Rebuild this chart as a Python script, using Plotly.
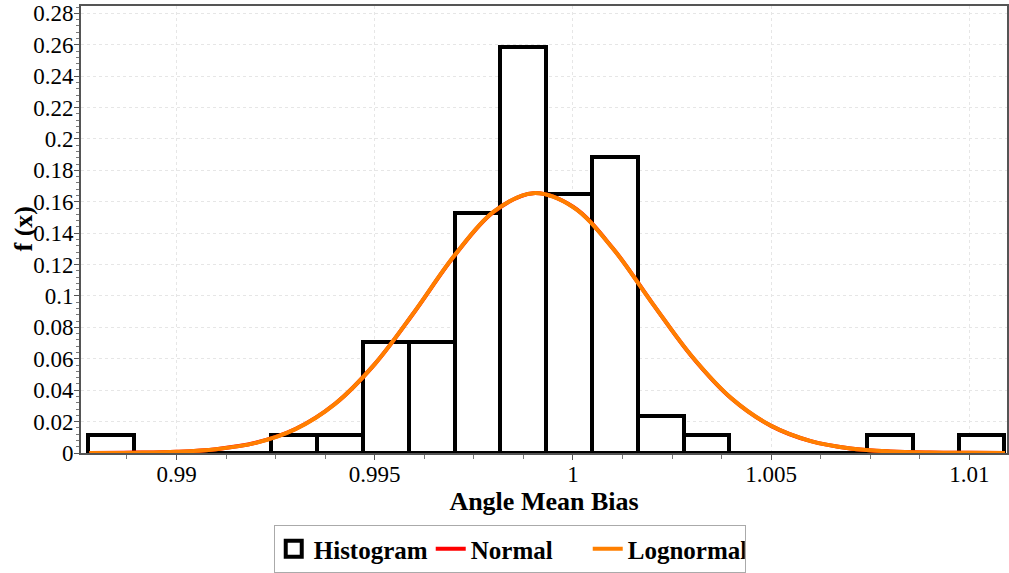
import plotly.graph_objects as go

# ---- data ----
bin_start = 0.98777          # left edge of first bin
bin_width = 0.0011556        # width of each bin
counts = [1, 0, 0, 0, 1, 1, 6, 6, 13, 22, 14, 16, 2, 1, 0, 0, 0, 1, 0, 1]
n_total = 85

curve_x = [0.9878, 0.989, 0.990, 0.991, 0.992, 0.993, 0.994, 0.995, 0.996, 0.997,
           0.998, 0.999, 1.000, 1.001, 1.002, 1.003, 1.004, 1.005, 1.006, 1.007,
           1.008, 1.009, 1.010, 1.0109]
normal_y = [0.00005, 0.00024, 0.00081, 0.00246, 0.00652, 0.01525, 0.03133, 0.0566,
            0.0898, 0.1253, 0.1536, 0.1655, 0.1568, 0.1306, 0.0955, 0.0615, 0.0347,
            0.01727, 0.00754, 0.00289, 0.00098, 0.00029, 0.00008, 0.00002]
lognormal_y = [0.00004, 0.00022, 0.00078, 0.00242, 0.00647, 0.01521, 0.03131, 0.0566,
               0.0899, 0.1254, 0.1537, 0.1655, 0.1567, 0.1305, 0.0955, 0.0616, 0.0348,
               0.01735, 0.00760, 0.00293, 0.00100, 0.00030, 0.00008, 0.00002]

x_ticks = [0.99, 0.995, 1.0, 1.005, 1.01]
x_tick_text = ["0.99", "0.995", "1", "1.005", "1.01"]
y_ticks = [0, 0.02, 0.04, 0.06, 0.08, 0.1, 0.12, 0.14, 0.16, 0.18, 0.2, 0.22, 0.24, 0.26, 0.28]
y_tick_text = ["0", "0.02", "0.04", "0.06", "0.08", "0.1", "0.12", "0.14", "0.16",
               "0.18", "0.2", "0.22", "0.24", "0.26", "0.28"]

# ---- derived ----
centers = [bin_start + bin_width * (i + 0.5) for i in range(len(counts))]
freqs = [c / n_total for c in counts]
edge_lo = bin_start
edge_hi = bin_start + bin_width * len(counts)

FONT = "Liberation Serif, Times New Roman, serif"
TICKFONT = dict(family=FONT, size=23, color="black")
TITLEFONT = dict(family=FONT, size=26, color="black", weight="bold")

fig = go.Figure()
fig.add_trace(go.Bar(
    x=centers, y=freqs, width=[bin_width] * len(counts),
    marker=dict(color="white", line=dict(color="black", width=4)),
    name="Histogram", legendgroup="h", showlegend=False,
))
fig.add_trace(go.Scatter(
    x=[edge_lo, edge_hi], y=[0, 0], mode="lines",
    line=dict(color="black", width=4), showlegend=False, legendgroup="h",
    hoverinfo="skip",
))
# legend entry for the histogram (outlined box symbol)
fig.add_trace(go.Scatter(
    x=[None], y=[None], mode="markers", name="Histogram", legendgroup="h",
    marker=dict(symbol="square-open", size=16, color="black",
                line=dict(width=4, color="black")),
))
fig.add_trace(go.Scatter(
    x=curve_x, y=normal_y, mode="lines", name="Normal",
    line=dict(color="#ff0000", width=4, shape="spline"),
))
fig.add_trace(go.Scatter(
    x=curve_x, y=lognormal_y, mode="lines", name="Lognormal",
    line=dict(color="#ff7f00", width=4, shape="spline"),
))

fig.update_layout(
    width=1009, height=573,
    margin=dict(l=81, r=2, t=6, b=120, autoexpand=False),
    plot_bgcolor="white", paper_bgcolor="white",
    font=dict(family=FONT, size=23, color="black"),
    bargap=0,
    showlegend=True,
    legend=dict(
        orientation="h", x=0.463, xanchor="center",
        yref="container", y=0.0, yanchor="bottom",
        bordercolor="#aaaaaa", borderwidth=1,
        font=dict(family=FONT, size=25, color="black", weight="bold"),
        itemwidth=30, entrywidth=112, tracegroupgap=0, itemsizing="trace",
    ),
    xaxis=dict(
        range=[0.98759, 1.01095],
        tickmode="array", tickvals=x_ticks, ticktext=x_tick_text,
        tickfont=TICKFONT, ticklabelstandoff=-6,
        showline=True, linecolor="#555555", linewidth=2, mirror=True,
        showgrid=True, gridcolor="#e6e6e6", griddash="dot", gridwidth=1,
        zeroline=False, ticks="outside", ticklen=5, tickcolor="#555555",
        minor=dict(dtick=0.00125, tick0=0.99, ticks="outside", ticklen=4,
                   tickcolor="#777777", showgrid=False),
        title=dict(text="Angle Mean Bias", standoff=4, font=TITLEFONT),
    ),
    yaxis=dict(
        range=[0, 0.2847],
        tickmode="array", tickvals=y_ticks, ticktext=y_tick_text,
        tickfont=TICKFONT, ticklabelstandoff=-4,
        showline=True, linecolor="#555555", linewidth=2, mirror=True,
        showgrid=True, gridcolor="#e6e6e6", griddash="dot", gridwidth=1,
        zeroline=False, ticks="outside", ticklen=5, tickcolor="#555555",
        minor=dict(dtick=0.004, tick0=0, ticks="outside", ticklen=3,
                   tickcolor="#777777", showgrid=False),
    ),
    annotations=[dict(
        text="f (x)", xref="paper", yref="paper", x=-0.0626, y=0.5,
        xanchor="center", yanchor="middle", textangle=-90, showarrow=False,
        font=TITLEFONT,
    )],
)

fig.write_html("out.html")
